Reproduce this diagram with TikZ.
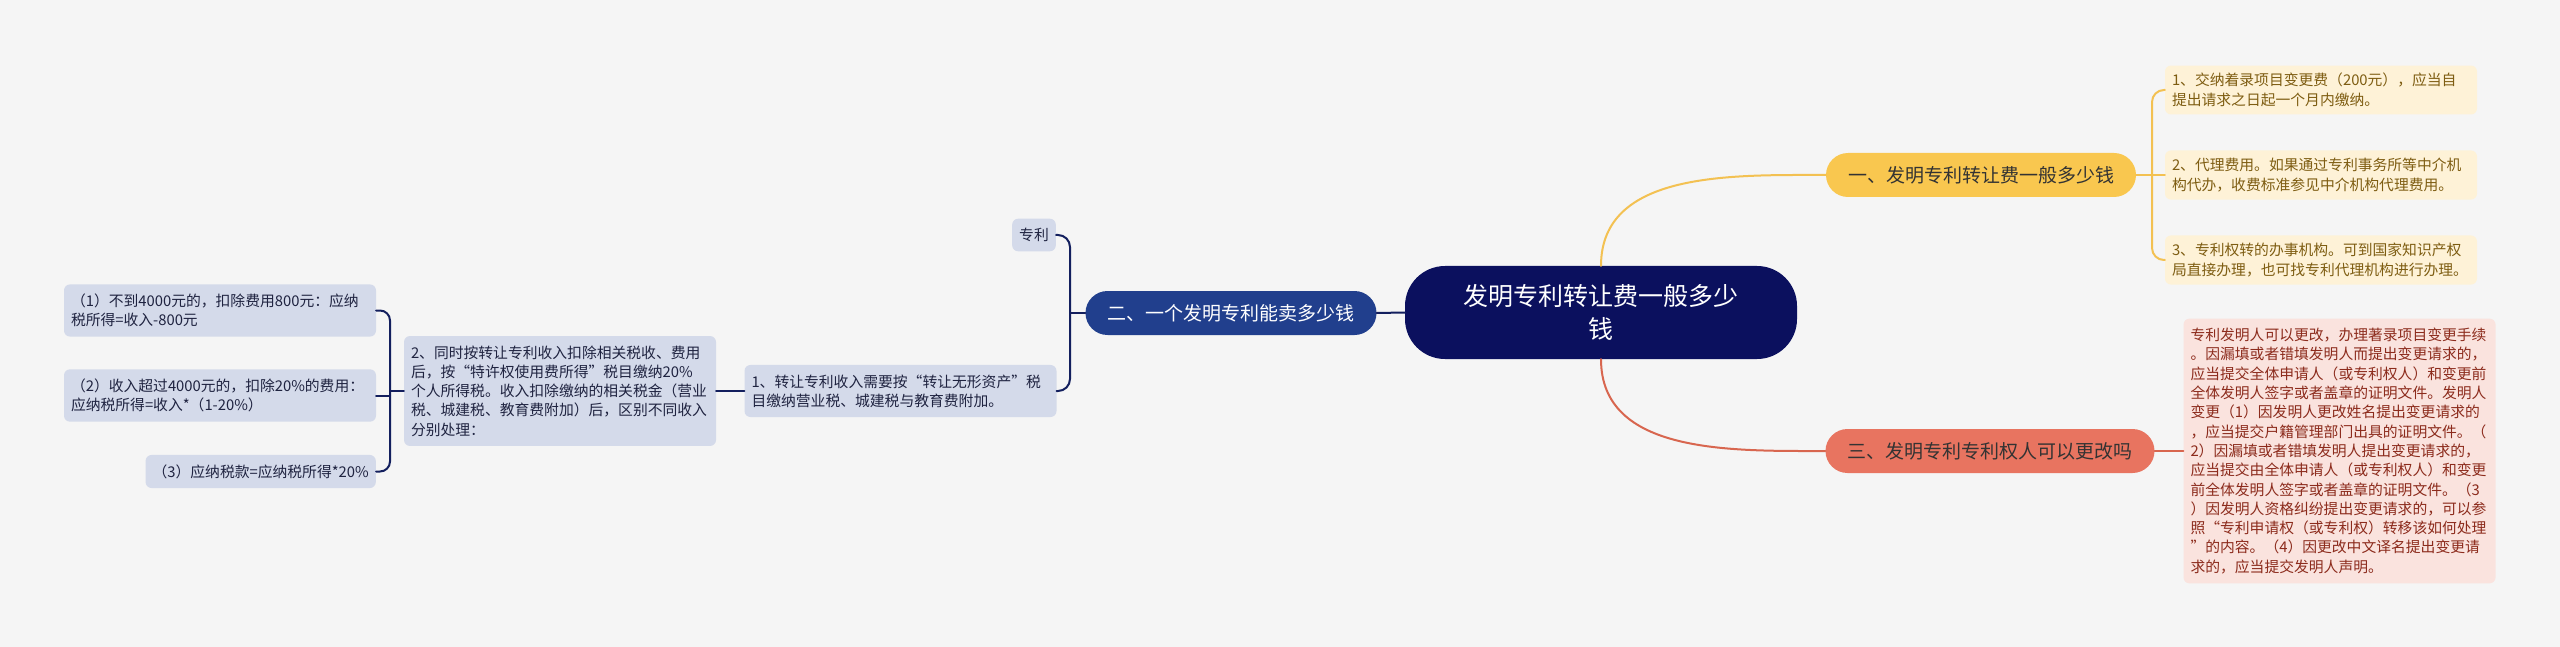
\documentclass[tikz,border=0pt]{standalone}
\usepackage{fontspec}
\setmainfont{Noto Sans CJK SC}
\definecolor{bgcol}{HTML}{F5F5F5}
\definecolor{rootcol}{HTML}{0B105E}
\definecolor{ybranch}{HTML}{F9C74F}
\definecolor{yleafcol}{HTML}{FEF2D7}
\definecolor{ytext}{HTML}{7E5D12}
\definecolor{yline}{HTML}{F3C152}
\definecolor{bbranch}{HTML}{213F8D}
\definecolor{bleafcol}{HTML}{D4DAEA}
\definecolor{btext}{HTML}{1F2340}
\definecolor{bline}{HTML}{131F5E}
\definecolor{rbranch}{HTML}{E87460}
\definecolor{rleafcol}{HTML}{FAE3DE}
\definecolor{rtext}{HTML}{8C2B1C}
\definecolor{rline}{HTML}{D8664F}
\begin{document}
\begin{tikzpicture}[x=1pt, y=1pt, line cap=round,
    rootnode/.style={fill=rootcol, text=white, rounded corners=40pt, text width=300pt, align=center, minimum width=392pt, minimum height=93pt, font=\fontsize{25}{33}\selectfont},
    branch/.style={rounded corners=22pt, minimum height=44pt, inner xsep=22pt, font=\fontsize{19}{23}\selectfont},
    leaf/.style={rounded corners=6pt, text width=298pt, inner xsep=7pt, inner ysep=9.5pt, align=left, font=\fontsize{14.8}{19.3}\selectfont},
    yleaf/.style={leaf, fill=yleafcol, text=ytext, inner ysep=7.5pt, font=\fontsize{14.8}{20}\selectfont},
    bleaf/.style={leaf, fill=bleafcol, text=btext},
    sleaf/.style={rounded corners=6pt, inner xsep=7pt, inner ysep=9.5pt, fill=bleafcol, text=btext, font=\fontsize{14.8}{19.3}\selectfont},
    link/.style={line width=2pt}]

    % BACKGROUND
    \fill[bgcol] (0,0) rectangle (2560,-647);

    % ROOT
    \node[rootnode] (root) at (1601,-312.5) {发明专利转让费一般多少\\钱};

    % YELLOW BRANCH
    \node[branch, fill=ybranch, text=black!80] (feeq) at (1981,-175) {一、发明专利转让费一般多少钱};
    \node[yleaf] (fee1) at (2321,-90) {1、交纳着录项目变更费（200元），应当自\\提出请求之日起一个月内缴纳。};
    \node[yleaf] (fee2) at (2321,-175) {2、代理费用。如果通过专利事务所等中介机\\构代办，收费标准参见中介机构代理费用。};
    \node[yleaf] (fee3) at (2321,-260) {3、专利权转的办事机构。可到国家知识产权\\局直接办理，也可找专利代理机构进行办理。};
    \coordinate (feefork) at (2152,-175);

    \draw[link, yline] (root.north) to[out=90, in=180] (feeq.west);
    \draw[link, yline] (feeq.east) -- (feefork);
    \draw[link, yline, rounded corners=12pt] (fee1.west) -| (feefork) |- (fee3.west);
    \draw[link, yline] (feefork) -- (fee2.west);

    % RED BRANCH
    \node[branch, fill=rbranch, text=black!80] (changeq) at (1990,-451) {三、发明专利专利权人可以更改吗};
    \node[leaf, fill=rleafcol, text=rtext] (change1) at (2339.5,-451) {专利发明人可以更改，办理著录项目变更手续\\。因漏填或者错填发明人而提出变更请求的，\\应当提交全体申请人（或专利权人）和变更前\\全体发明人签字或者盖章的证明文件。发明人\\变更（1）因发明人更改姓名提出变更请求的\\，应当提交户籍管理部门出具的证明文件。（\\2）因漏填或者错填发明人提出变更请求的，\\应当提交由全体申请人（或专利权人）和变更\\前全体发明人签字或者盖章的证明文件。（3\\）因发明人资格纠纷提出变更请求的，可以参\\照“专利申请权（或专利权）转移该如何处理\\”的内容。（4）因更改中文译名提出变更请\\求的，应当提交发明人声明。};

    \draw[link, rline] (root.south) to[out=-90, in=180] (changeq.west);
    \draw[link, rline] (changeq.east) -- (change1.west);

    % BLUE BRANCH
    \node[branch, fill=bbranch, text=white] (priceq) at (1231,-313) {二、一个发明专利能卖多少钱};
    \node[sleaf] (patent) at (1034,-235) {专利};
    \node[bleaf] (tax1) at (900.5,-391) {1、转让专利收入需要按“转让无形资产”税\\目缴纳营业税、城建税与教育费附加。};
    \node[bleaf] (tax2) at (560,-391) {2、同时按转让专利收入扣除相关税收、费用\\后，按“特许权使用费所得”税目缴纳20\%\\个人所得税。收入扣除缴纳的相关税金（营业\\税、城建税、教育费附加）后，区别不同收入\\分别处理：};
    \node[bleaf] (case1) at (220,-310.5) {（1）不到4000元的，扣除费用800元：应纳\\税所得=收入-800元};
    \node[bleaf] (case2) at (220,-395.5) {（2）收入超过4000元的，扣除20\%的费用：\\应纳税所得=收入*（1-20\%）};
    \node[sleaf, anchor=east] (case3) at (376,-471.5) {（3）应纳税款=应纳税所得*20\%};
    \coordinate (pricefork) at (1070,-313);
    \coordinate (casefork) at (390,-391);

    \draw[link, bline] (root.west) -- (priceq.east);
    \draw[link, bline] (priceq.west) -- (pricefork);
    \draw[link, bline, rounded corners=12pt] (patent.east) -| (pricefork) |- (tax1.east);
    \draw[link, bline] (tax1.west) -- (tax2.east);
    \draw[link, bline] (tax2.west) -- (casefork);
    \draw[link, bline, rounded corners=10pt] (case1.east) -| (casefork) |- (case3.east);
    \draw[link, bline] (case2.east) -- (case2.east -| casefork);
\end{tikzpicture}
\end{document}
